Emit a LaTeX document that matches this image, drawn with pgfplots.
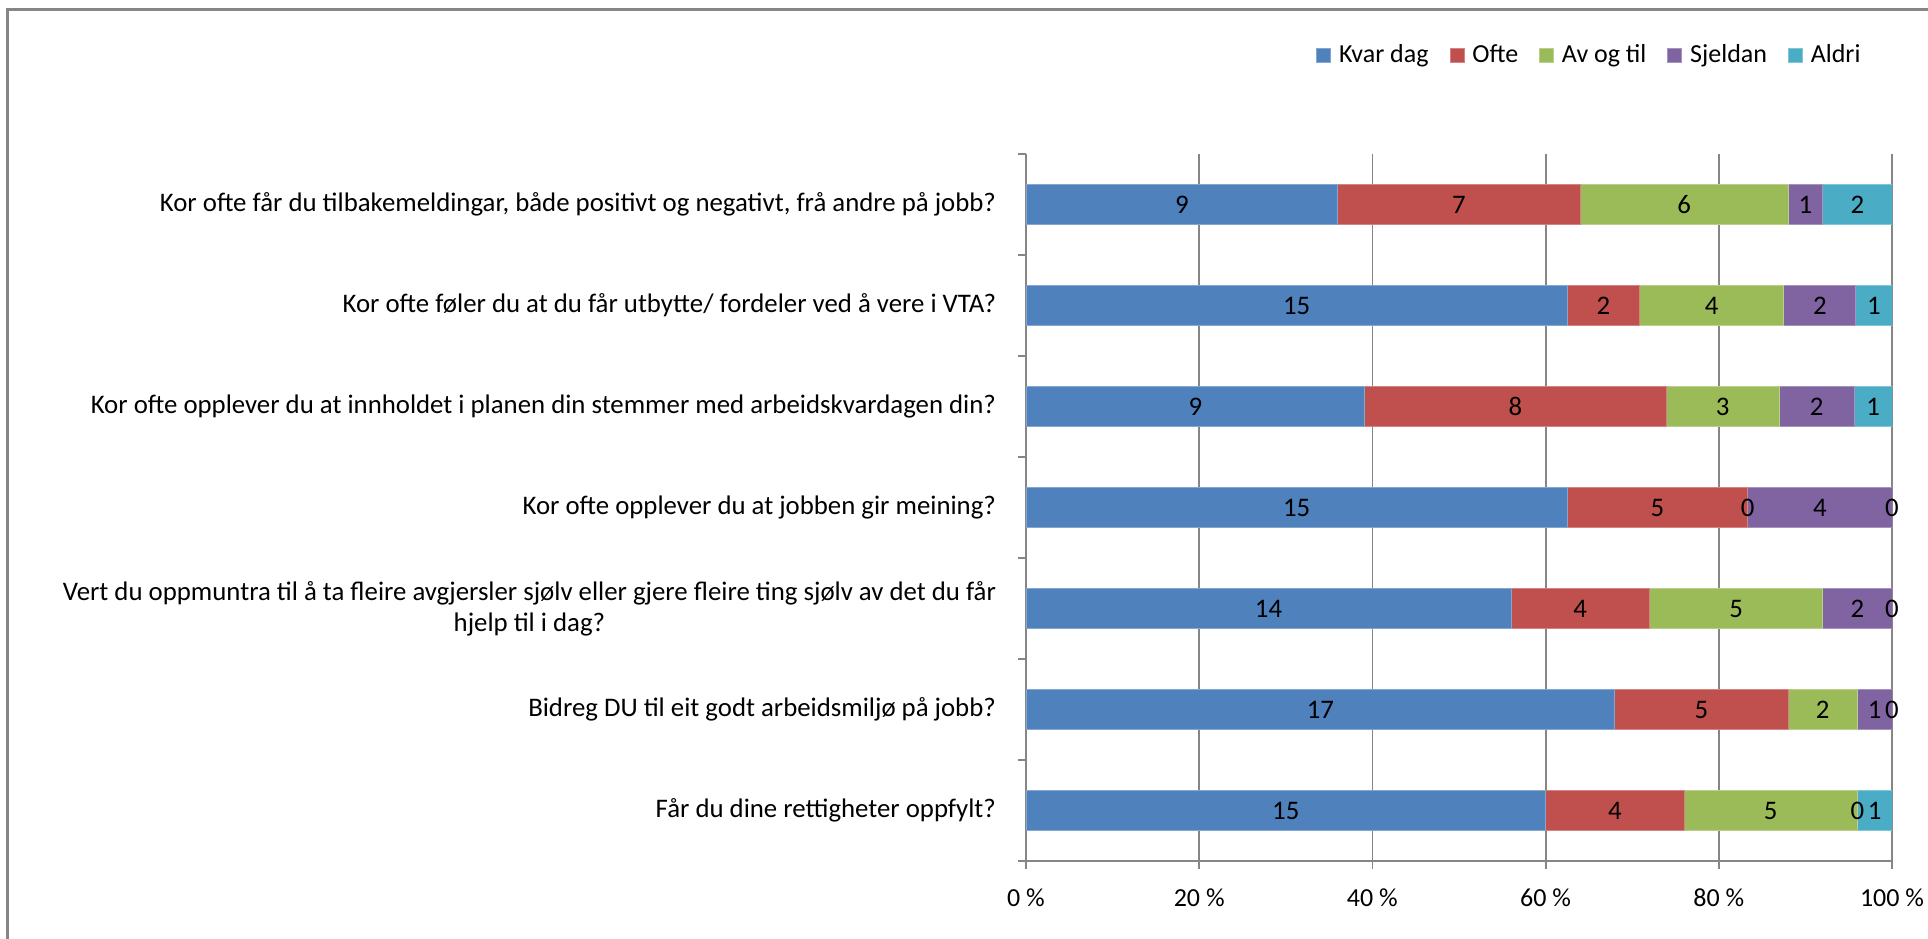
\documentclass[border=0pt]{standalone}
\usepackage{fontspec}
\setmainfont{Carlito}
\usepackage{pgfplots}
\pgfplotsset{compat=1.18}
\usepackage{pgfplotstable}
\definecolor{c1}{HTML}{4F81BD}
\definecolor{c2}{HTML}{C0504D}
\definecolor{c3}{HTML}{9BBB59}
\definecolor{c4}{HTML}{8064A2}
\definecolor{c5}{HTML}{4BACC6}
\definecolor{axgray}{HTML}{868686}

% y = row (0 = top), pct = share of answers (%), n = count, mid = centre of segment (%)
\pgfplotstableread{
y pct n mid
0 36 9 18
1 62.5 15 31.25
2 39.13 9 19.565
3 62.5 15 31.25
4 56 14 28
5 68 17 34
6 60 15 30
}\kvardag
\pgfplotstableread{
y pct n mid
0 28 7 50
1 8.33 2 66.665
2 34.78 8 56.52
3 20.83 5 72.915
4 16 4 64
5 20 5 78
6 16 4 68
}\ofte
\pgfplotstableread{
y pct n mid
0 24 6 76
1 16.67 4 79.165
2 13.04 3 80.43
3 0 0 83.33
4 20 5 82
5 8 2 92
6 20 5 86
}\avogtil
\pgfplotstableread{
y pct n mid
0 4 1 90
1 8.33 2 91.665
2 8.70 2 91.30
3 16.67 4 91.665
4 8 2 96
5 4 1 98
6 0 0 96
}\sjeldan
\pgfplotstableread{
y pct n mid
0 8 2 96
1 4.17 1 97.915
2 4.35 1 97.825
3 0 0 100
4 0 0 100
5 0 0 100
6 4 1 98
}\aldri

\pgfplotsset{
  lbl/.style={scatter, only marks, mark=*, mark size=0pt,
    mark options={draw=none, fill=none},
    point meta=explicit symbolic,
    scatter/@pre marker code/.code={\node[inner sep=0pt, text=black, font=\fontsize{13.4bp}{16bp}\selectfont] {\pgfplotspointmeta};},
    scatter/@post marker code/.code={}},
}

\begin{document}
\fontsize{13bp}{15.5bp}\selectfont
\begin{tikzpicture}[font=\fontsize{13bp}{15.5bp}\selectfont]
\useasboundingbox (0,0) rectangle (964bp,469.5bp);
\draw[axgray, line width=1.25bp] (3.75bp,0) -- (3.75bp,464.75bp) -- (964bp,464.75bp);
\begin{axis}[
  scale only axis, width=433bp, height=353.5bp,
  at={(513bp,39bp)}, anchor=south west,
  xbar stacked, bar width=20bp,
  xmin=0, xmax=100, ymin=-0.5, ymax=6.5, y dir=reverse,
  axis x line*=bottom, axis y line*=left,
  axis line style={axgray, line width=0.9bp},
  xmajorgrids, major grid style={axgray, line width=0.9bp},
  tick align=outside, major tick length=4bp,
  tick style={axgray, line width=0.9bp},
  xtick={0,20,...,100},
  xticklabels={0 \%,20 \%,40 \%,60 \%,80 \%,100 \%},
  xticklabel style={text=black, yshift=-5.5bp},
  ytick={-0.5,0.5,...,6.5}, yticklabel=\empty,
  extra y ticks={0,1,2,3,4,5,6},
  extra y tick labels={
    {Kor ofte får du tilbakemeldingar, både positivt og negativt, frå andre på jobb?},
    {Kor ofte føler du at du får utbytte/ fordeler ved å vere i VTA?},
    {Kor ofte opplever du at innholdet i planen din stemmer med arbeidskvardagen din?},
    {Kor ofte opplever du at jobben gir meining?},
    {Vert du oppmuntra til å ta fleire avgjersler sjølv eller gjere fleire ting sjølv av det du får\\hjelp til i dag?},
    {Bidreg DU til eit godt arbeidsmiljø på jobb?},
    {Får du dine rettigheter oppfylt?}},
  extra y tick style={major tick length=0pt, tick style={draw=none},
    yticklabel style={align=center, text=black, xshift=-10.5bp,
      font=\fontsize{13.4bp}{15.5bp}\selectfont}},
  legend columns=5,
  legend image code/.code={\fill[#1] (0bp,-3.5bp) rectangle (7bp,3.5bp);},
  legend style={draw=none, fill=none, at={(0.3349,1.14)}, anchor=west,
    inner xsep=0pt, inner ysep=0pt,
    /tikz/every odd column/.append style={column sep=2bp},
    /tikz/every even column/.append style={column sep=8.5bp}},
]
\addplot[fill=c1, draw=c1!70!white, line width=0.4bp] table[x=pct,y=y] {\kvardag};
\addplot[fill=c2, draw=c2!70!white, line width=0.4bp] table[x=pct,y=y] {\ofte};
\addplot[fill=c3, draw=c3!70!white, line width=0.4bp] table[x=pct,y=y] {\avogtil};
\addplot[fill=c4, draw=c4!70!white, line width=0.4bp] table[x=pct,y=y] {\sjeldan};
\addplot[fill=c5, draw=c5!70!white, line width=0.4bp] table[x=pct,y=y] {\aldri};
\legend{Kvar dag, Ofte, Av og til, Sjeldan, Aldri}
\end{axis}
\begin{axis}[
  scale only axis, width=433bp, height=353.5bp,
  at={(513bp,39bp)}, anchor=south west,
  xmin=0, xmax=100, ymin=-0.5, ymax=6.5, y dir=reverse,
  hide axis, clip=false,
]
\addplot[lbl] table[x=mid,y=y,meta=n] {\kvardag};
\addplot[lbl] table[x=mid,y=y,meta=n] {\ofte};
\addplot[lbl] table[x=mid,y=y,meta=n] {\avogtil};
\addplot[lbl] table[x=mid,y=y,meta=n] {\sjeldan};
\addplot[lbl] table[x=mid,y=y,meta=n] {\aldri};
\end{axis}
\end{tikzpicture}
\end{document}
